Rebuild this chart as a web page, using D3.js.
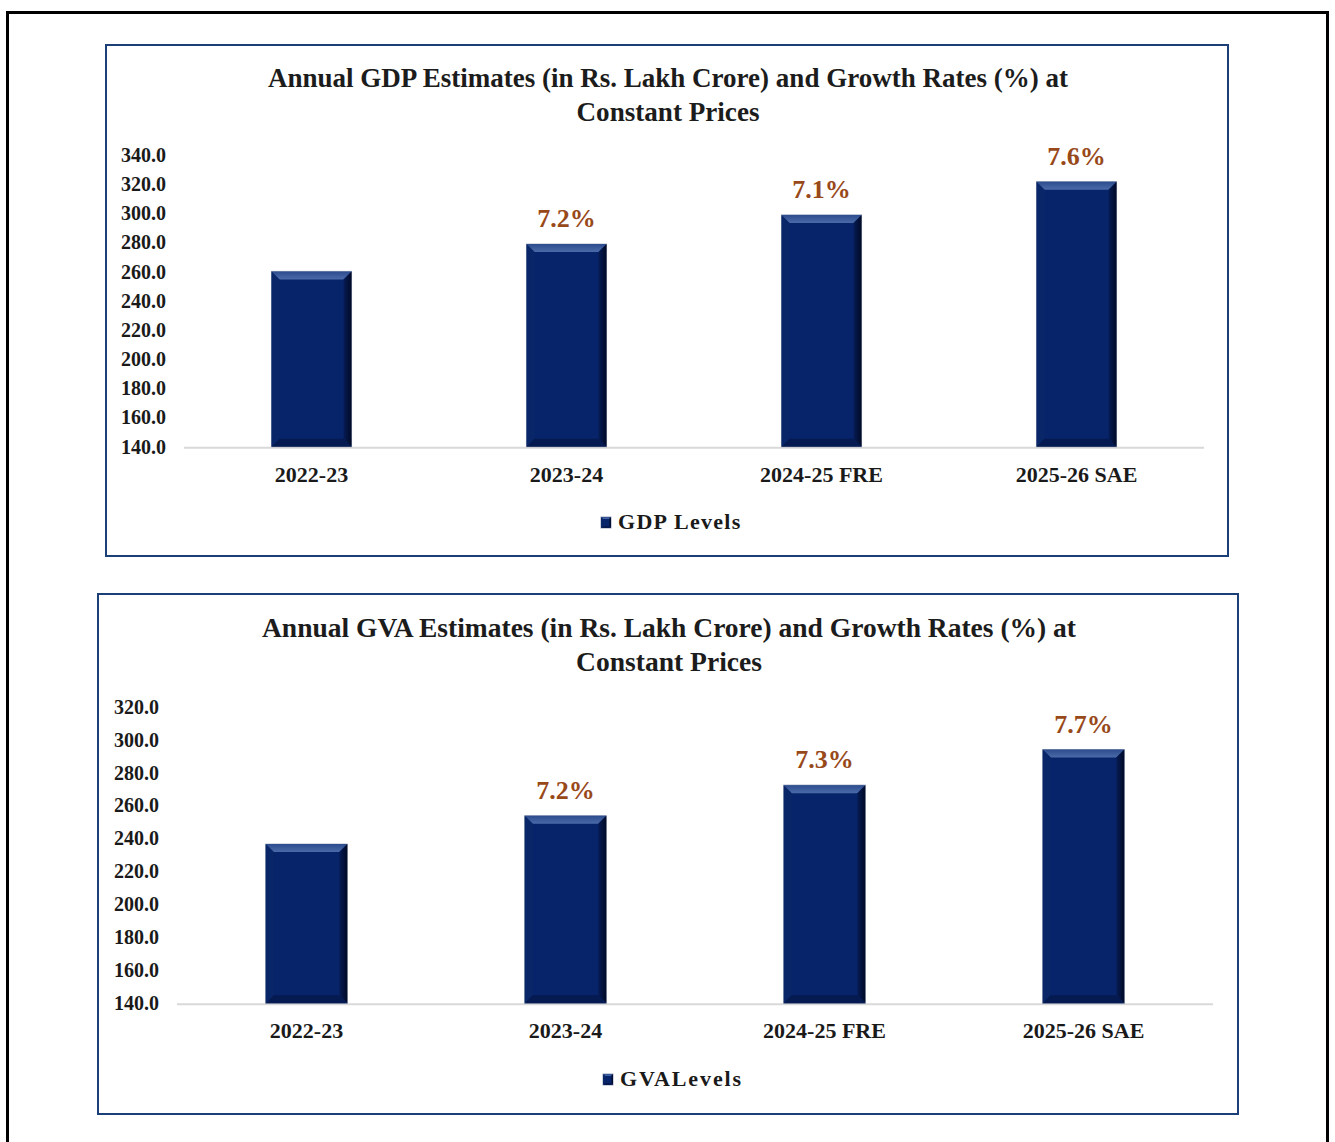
<!DOCTYPE html>
<html>
<head>
<meta charset="utf-8">
<script src="https://cdn.jsdelivr.net/npm/d3@7"></script>
<style>
  html, body { margin: 0; padding: 0; background: #ffffff; }
  svg { display: block; }
</style>
</head>
<body>
<svg id="page" width="1335" height="1142"></svg>
<script>
// ---- data ----
const years = ["2022-23", "2023-24", "2024-25 FRE", "2025-26 SAE"];

const gdpLevels = [260.2, 278.9, 298.9, 321.7];
const gdpGrowth = ["", "7.2%", "7.1%", "7.6%"];
const gdpTicks = [140, 160, 180, 200, 220, 240, 260, 280, 300, 320, 340];

const gvaLevels = [236.6, 253.8, 272.4, 294.0];
const gvaGrowth = ["", "7.2%", "7.3%", "7.7%"];
const gvaTicks = [140, 160, 180, 200, 220, 240, 260, 280, 300, 320];

const NAVY = "#07246a";
const BROWN = "#98491a";
const FONT = "'Liberation Serif', 'Times New Roman', serif";

const svg = d3.select("#page");

// defs for the bevelled bars
const defs = svg.append("defs");
const topGrad = defs.append("linearGradient").attr("id", "bevel-top").attr("x1", 0).attr("y1", 0).attr("x2", 0).attr("y2", 1);
topGrad.append("stop").attr("offset", "0%").attr("stop-color", "#2c4c8e");
topGrad.append("stop").attr("offset", "100%").attr("stop-color", "#4a6aa8");
const rightGrad = defs.append("linearGradient").attr("id", "bevel-right").attr("x1", 0).attr("y1", 0).attr("x2", 1).attr("y2", 0);
rightGrad.append("stop").attr("offset", "0%").attr("stop-color", "#061c55");
rightGrad.append("stop").attr("offset", "100%").attr("stop-color", "#010a26");

// outer page frame
svg.append("rect")
    .attr("x", 7.5).attr("y", 12.5)
    .attr("width", 1320).attr("height", 1150)
    .attr("fill", "none")
    .attr("stroke", "#000000")
    .attr("stroke-width", 3);

const drawBar = (g, x, y, w, h, b = 8) => {
    g.append("rect").attr("x", x).attr("y", y).attr("width", w).attr("height", h)
        .attr("fill", NAVY).attr("stroke", "#9aa4b8").attr("stroke-width", 1);
    // top bevel
    g.append("polygon")
        .attr("points", [[x, y], [x + w, y], [x + w - b, y + b], [x + b, y + b]].join(" "))
        .attr("fill", "url(#bevel-top)");
    // left bevel
    g.append("polygon")
        .attr("points", [[x, y], [x + b, y + b], [x + b, y + h - b], [x, y + h]].join(" "))
        .attr("fill", "#092768");
    // right bevel
    g.append("polygon")
        .attr("points", [[x + w, y], [x + w - b, y + b], [x + w - b, y + h - b], [x + w, y + h]].join(" "))
        .attr("fill", "url(#bevel-right)");
    // bottom bevel
    g.append("polygon")
        .attr("points", [[x, y + h], [x + b, y + h - b], [x + w - b, y + h - b], [x + w, y + h]].join(" "))
        .attr("fill", "#041a50");
};

const drawChart = (cfg) => {
    const g = svg.append("g");

    g.append("rect")
        .attr("x", cfg.box[0]).attr("y", cfg.box[1])
        .attr("width", cfg.box[2]).attr("height", cfg.box[3])
        .attr("fill", "#ffffff")
        .attr("stroke", "#1c3f78")
        .attr("stroke-width", 2);

    // title (two lines)
    cfg.title.forEach((line, i) => {
        g.append("text")
            .attr("x", cfg.titleX)
            .attr("y", cfg.titleY + i * 34)
            .attr("text-anchor", "middle")
            .attr("font-family", FONT)
            .attr("font-size", 27)
            .attr("font-weight", "bold")
            .attr("fill", "#1c1c1c")
            .attr("textLength", cfg.titleLen[i])
            .attr("lengthAdjust", "spacingAndGlyphs")
            .text(line);
    });

    const x = d3.scaleBand()
        .domain(years)
        .range(cfg.xRange)
        .paddingInner(cfg.pad)
        .paddingOuter(cfg.pad / 2);

    const y = d3.scaleLinear()
        .domain([cfg.ticks[0], cfg.ticks[cfg.ticks.length - 1]])
        .range(cfg.yRange);

    // y axis labels
    const yAxis = g.append("g")
        .attr("transform", `translate(${cfg.yLabelX},0)`)
        .call(d3.axisLeft(y).tickValues(cfg.ticks).tickSize(0).tickPadding(0).tickFormat(d3.format(".1f")));
    yAxis.select(".domain").remove();
    yAxis.selectAll("text")
        .attr("font-family", FONT)
        .attr("font-size", 20)
        .attr("font-weight", "bold")
        .attr("fill", "#1a1a1a");

    // baseline
    g.append("line")
        .attr("x1", cfg.xRange[0]).attr("x2", cfg.xRange[1])
        .attr("y1", y(cfg.ticks[0]) + 1).attr("y2", y(cfg.ticks[0]) + 1)
        .attr("stroke", "#d9d9d9")
        .attr("stroke-width", 2);

    // bars
    cfg.values.forEach((v, i) => {
        const bx = x(years[i]);
        drawBar(g, bx, y(v), x.bandwidth(), y(cfg.ticks[0]) - y(v));
        if (cfg.growth[i]) {
            g.append("text")
                .attr("x", bx + x.bandwidth() / 2)
                .attr("y", y(v) - 17)
                .attr("text-anchor", "middle")
                .attr("font-family", FONT)
                .attr("font-size", 26)
                .attr("font-weight", "bold")
                .attr("fill", BROWN)
                .text(cfg.growth[i]);
        }
    });

    // category labels
    g.selectAll(".cat")
        .data(years)
        .join("text")
        .attr("class", "cat")
        .attr("x", d => x(d) + x.bandwidth() / 2)
        .attr("y", cfg.catY)
        .attr("text-anchor", "middle")
        .attr("font-family", FONT)
        .attr("font-size", 22)
        .attr("font-weight", "bold")
        .attr("fill", "#1a1a1a")
        .text(d => d);

    // legend
    drawBar(g, cfg.legend[0], cfg.legend[1], 10, 11, 2);
    g.append("text")
        .attr("x", cfg.legend[0] + 17)
        .attr("y", cfg.legend[1] + 12)
        .attr("font-family", FONT)
        .attr("font-size", 22)
        .attr("font-weight", "bold")
        .attr("letter-spacing", cfg.legendSpacing)
        .attr("fill", "#1a1a1a")
        .text(cfg.legendText);
};

drawChart({
    box: [106, 45, 1122, 511],
    title: ["Annual GDP Estimates (in Rs. Lakh Crore) and Growth Rates (%) at", "Constant Prices"],
    titleX: 668, titleY: 87, titleLen: [800, 183],
    xRange: [184, 1204], pad: 0.686,
    yRange: [446.7, 155],
    ticks: gdpTicks,
    values: gdpLevels,
    growth: gdpGrowth,
    yLabelX: 166,
    catY: 482,
    legend: [601, 517],
    legendText: "GDP Levels",
    legendSpacing: 1.3
});

drawChart({
    box: [98, 594, 1140, 520],
    title: ["Annual GVA Estimates (in Rs. Lakh Crore) and Growth Rates (%) at", "Constant Prices"],
    titleX: 669, titleY: 637, titleLen: [814, 186],
    xRange: [177, 1213], pad: 0.685,
    yRange: [1003.3, 706.7],
    ticks: gvaTicks,
    values: gvaLevels,
    growth: gvaGrowth,
    yLabelX: 159,
    catY: 1038,
    legend: [603, 1074],
    legendText: "GVALevels",
    legendSpacing: 1.9
});
</script>
</body>
</html>
